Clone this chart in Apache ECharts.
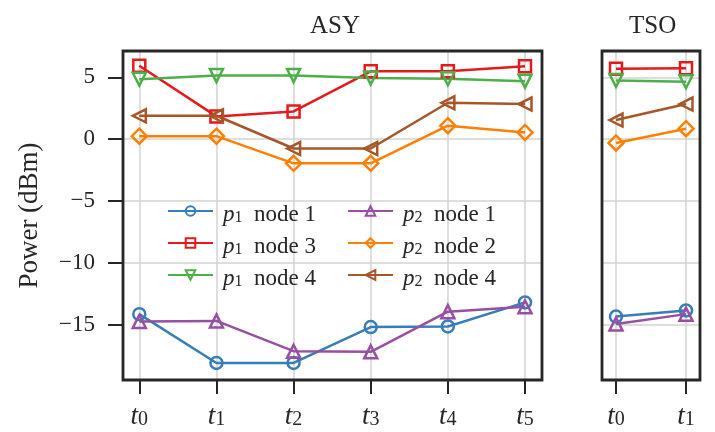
<!DOCTYPE html>
<html>
<head>
<meta charset="utf-8">
<script src="https://cdn.jsdelivr.net/npm/echarts@6/dist/echarts.min.js"></script>
<style>
html,body{margin:0;padding:0;background:#fff;}
#main{width:715px;height:432px;}
</style>
</head>
<body>
<div id="main"></div>
<script>
// categories
var asyCats=['t0','t1','t2','t3','t4','t5'];
var tsoCats=['t0','t1'];
var yTicks=[-15,-10,-5,0,5];
var yMin=-19.48, yMax=7.14;

// ASY values (dBm)
var asyP1N1=[-14.15,-18.1,-18.1,-15.2,-15.15,-13.2];
var asyP1N3=[5.95,1.85,2.25,5.5,5.5,5.9];
var asyP1N4=[4.85,5.15,5.15,4.95,4.9,4.7];
var asyP2N1=[-14.75,-14.7,-17.15,-17.2,-13.95,-13.55];
var asyP2N2=[0.25,0.25,-1.95,-1.95,1.1,0.55];
var asyP2N4=[1.9,1.9,-0.75,-0.75,2.95,2.85];

// TSO values (dBm)
var tsoP1N1=[-14.35,-13.85];
var tsoP1N3=[5.7,5.75];
var tsoP1N4=[4.75,4.65];
var tsoP2N1=[-14.95,-14.15];
var tsoP2N2=[-0.3,0.85];
var tsoP2N4=[1.55,2.85];

var FONT='Liberation Serif';
var DARK='#262626';
var GRIDC='#d3d3d3';

// name, colour, symbol, rotate, size
var styles=[
	['p1 node 1','#377eb8','circle',0,12],
	['p1 node 3','#e41a1c','rect',0,12],
	['p1 node 4','#4daf4a','triangle',180,13],
	['p2 node 1','#984ea3','triangle',0,13],
	['p2 node 2','#ff7f00','diamond',0,15],
	['p2 node 4','#a65628','triangle',90,13]
];
var asyData=[asyP1N1,asyP1N3,asyP1N4,asyP2N1,asyP2N2,asyP2N4];
var tsoData=[tsoP1N1,tsoP1N3,tsoP1N4,tsoP2N1,tsoP2N2,tsoP2N4];

function mkSerie(st,data,axisIdx){
	return {
		name:st[0],type:'line',data:data,
		xAxisIndex:axisIdx,yAxisIndex:axisIdx,
		symbol:st[2],symbolRotate:st[3],symbolSize:st[4],
		showAllSymbol:true,
		lineStyle:{color:st[1],width:2.5},
		itemStyle:{color:'rgba(255,255,255,0)',borderColor:st[1],borderWidth:2.5},
		emphasis:{disabled:true},
		z:2
	};
}
var series=[];
for(var i=0;i<styles.length;i++){
	series.push(mkSerie(styles[i],asyData[i],1));
	series.push(mkSerie(styles[i],tsoData[i],3));
}

var tickLbl=function(v){return '{t|t}{s|'+v.slice(1)+'}';};
var tickRich={
	t:{fontFamily:FONT,fontStyle:'italic',fontSize:27,lineHeight:26,verticalAlign:'bottom',color:DARK},
	s:{fontFamily:FONT,fontSize:20,lineHeight:38,verticalAlign:'bottom',color:DARK}
};
var legendFmt=function(n){
	var p=n.split(' ');
	return '{p|p}{s|'+p[0].slice(1)+'}{n|  '+p[1]+' '+p[2]+'}';
};
var legendRich={
	p:{fontFamily:FONT,fontStyle:'italic',fontSize:23,lineHeight:22,verticalAlign:'bottom',color:DARK},
	s:{fontFamily:FONT,fontSize:16,lineHeight:30,verticalAlign:'bottom',color:DARK},
	n:{fontFamily:FONT,fontSize:23,lineHeight:22,verticalAlign:'bottom',color:DARK}
};
function catAxis(grid,cats){
	return {
		gridIndex:grid,type:'category',data:cats,boundaryGap:false,
		axisLine:{show:false,onZero:false},
		axisTick:{show:true,length:14,alignWithLabel:true,lineStyle:{color:DARK,width:2}},
		axisLabel:{formatter:tickLbl,rich:tickRich,margin:12},
		splitLine:{show:true,lineStyle:{color:GRIDC,width:1.5}}
	};
}
var legendBase={
	orient:'vertical',itemWidth:45,itemHeight:12,itemGap:9,
	formatter:legendFmt,
	textStyle:{rich:legendRich,padding:[0,0,0,5]},
	selectedMode:false
};
var frameGrid={show:true,borderColor:DARK,borderWidth:2.8,backgroundColor:'rgba(0,0,0,0)',z:3,outerBoundsMode:'none',containLabel:false};

var myChart=echarts.init(document.getElementById('main'));
myChart.setOption({
	animation:false,
	textStyle:{fontFamily:FONT},
	title:[
		{text:'ASY',left:305,top:9,textStyle:{fontFamily:FONT,fontWeight:'normal',fontSize:25,color:DARK}},
		{text:'TSO',left:624,top:9,textStyle:{fontFamily:FONT,fontWeight:'normal',fontSize:25,color:DARK}}
	],
	legend:[
		Object.assign({},legendBase,{left:162,top:198,data:['p1 node 1','p1 node 3','p1 node 4']}),
		Object.assign({},legendBase,{left:342,top:198,data:['p2 node 1','p2 node 2','p2 node 4']})
	],
	grid:[
		Object.assign({left:123,top:51,width:419,height:329},frameGrid),
		{left:139.3,top:51,width:385.7,height:329,outerBoundsMode:'none',containLabel:false},
		Object.assign({left:602,top:51,width:98,height:329},frameGrid),
		{left:616,top:51,width:70,height:329,outerBoundsMode:'none',containLabel:false}
	],
	xAxis:[
		{gridIndex:0,type:'value',min:0,max:1,show:false},
		catAxis(1,asyCats),
		{gridIndex:2,type:'value',min:0,max:1,show:false},
		catAxis(3,tsoCats)
	],
	yAxis:[
		{
			gridIndex:0,type:'value',min:yMin,max:yMax,
			name:'Power (dBm)',nameLocation:'middle',nameGap:80,
			nameTextStyle:{fontFamily:FONT,fontSize:27,color:DARK},
			axisLine:{show:false},
			axisTick:{show:true,length:15,customValues:yTicks,lineStyle:{color:DARK,width:2}},
			axisLabel:{customValues:yTicks,margin:28,fontFamily:FONT,fontSize:23,color:DARK,
				formatter:function(v){return String(v).replace('-','\u2212');}},
			splitLine:{show:true,showMinLine:false,showMaxLine:false,lineStyle:{color:GRIDC,width:1.5}}
		},
		{gridIndex:1,type:'value',min:yMin,max:yMax,show:false,splitLine:{show:false}},
		{
			gridIndex:2,type:'value',min:yMin,max:yMax,
			axisLine:{show:false},axisTick:{show:false},axisLabel:{show:false},
			splitLine:{show:true,showMinLine:false,showMaxLine:false,lineStyle:{color:GRIDC,width:1.5}}
		},
		{gridIndex:3,type:'value',min:yMin,max:yMax,show:false,splitLine:{show:false}}
	],
	series:series
});
</script>
</body>
</html>
